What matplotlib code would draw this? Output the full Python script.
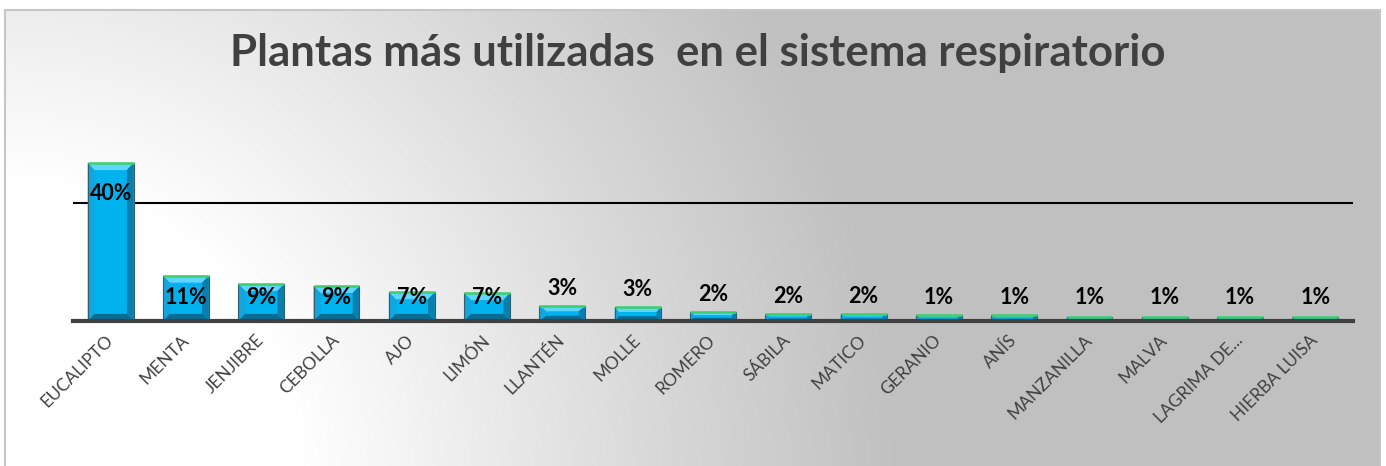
import matplotlib
matplotlib.use('Agg')
import matplotlib.pyplot as plt
import numpy as np
from matplotlib.patches import Polygon, Rectangle

# ---- data ----
categories = ['EUCALIPTO', 'MENTA', 'JENJIBRE', 'CEBOLLA', 'AJO', 'LIMÓN', 'LLANTÉN',
              'MOLLE', 'ROMERO', 'SÁBILA', 'MATICO', 'GERANIO', 'ANÍS', 'MANZANILLA',
              'MALVA', 'LAGRIMA DE...', 'HIERBA LUISA']
values = [40, 11.5, 9.4, 8.9, 7.3, 7.1, 3.8, 3.5, 2.3, 1.8, 1.8, 1.5, 1.5, 1.0, 1.0, 1.0, 1.0]
value_labels = ['40%', '11%', '9%', '9%', '7%', '7%', '3%', '3%', '2%', '2%', '2%',
                '1%', '1%', '1%', '1%', '1%', '1%']
title = 'Plantas más utilizadas  en el sistema respiratorio'

W, H, DPI = 1386, 466, 100
fig = plt.figure(figsize=(W / DPI, H / DPI), dpi=DPI)
fig.patch.set_facecolor('white')

# ---- background gradient panel ----
fx0, fx1, fy0, fy1 = 5, 1380, 10, 466  # pixel extents (top-origin)
bg = fig.add_axes([fx0 / W, 0, (fx1 - fx0) / W, 1 - fy0 / H], zorder=-5)
xs = np.arange(fx0, fx1)
ys = np.arange(fy0, fy1)
X, Y = np.meshgrid(xs, ys)
R = np.hypot(X - 0, (Y - 480) * 1.0)
t = np.interp(R, [0, 300, 450, 650, 900, 5000], [0, 0, 0.25, 0.6, 1.0, 1.0])
grey = (255 - t * (255 - 192)) / 255.0
img = np.dstack([grey, grey, grey])
bg.imshow(img, aspect='auto', interpolation='bilinear')
bg.set_axis_off()
fig.add_artist(Rectangle((fx0 / W, -0.01), (fx1 - fx0) / W, 1 - fy0 / H + 0.01,
                         transform=fig.transFigure, fill=False,
                         edgecolor='#c6c6c6', lw=1.5, zorder=-4))

# ---- main axes ----
ax_left, ax_right = 73 / W, 1353 / W
ax_bottom = 1 - 321 / H
ymax = 50
ax_top = 1 - (321 - ymax * 3.95) / H
ax = fig.add_axes([ax_left, ax_bottom, ax_right - ax_left, ax_top - ax_bottom])
ax.patch.set_alpha(0)
ax.set_xlim(-0.5, len(categories) - 0.5)
ax.set_ylim(0, ymax)

x = np.arange(len(categories))
bw = 0.61
bars = ax.bar(x, values, width=bw, color='#00b2ee', edgecolor='none', zorder=2)

# bevel facets
bx = 0.09
by_full = 1.8
for rect, v in zip(bars, values):
    x0 = rect.get_x()
    x1 = x0 + rect.get_width()
    h = rect.get_height()
    by = min(by_full, h * 0.35)
    bxx = bx if h > 2 * by_full else bx * 0.6
    facets = [
        ([(x0, h), (x1, h), (x1 - bxx, h - by), (x0 + bxx, h - by)], '#5fd6ff'),
        ([(x0, 0), (x0, h), (x0 + bxx, h - by), (x0 + bxx, by)], '#12a6dc'),
        ([(x1, 0), (x1, h), (x1 - bxx, h - by), (x1 - bxx, by)], '#0a7fae'),
        ([(x0, 0), (x1, 0), (x1 - bxx, by), (x0 + bxx, by)], '#086d94'),
    ]
    for pts, c in facets:
        ax.add_patch(Polygon(pts, closed=True, facecolor=c, edgecolor='none', zorder=3))
    ax.add_patch(Rectangle((x0, 0), x1 - x0, h, fill=False, edgecolor='#2f5f6f',
                           lw=0.8, zorder=4))
    ax.plot([x0, x1], [h, h], color='#3ccf6e', lw=1.8, zorder=5, solid_capstyle='butt')

# value labels
for xi, v, lab in zip(x, values, value_labels):
    if v >= 5:
        ly = max(v - 7.6, 6.0)
    else:
        ly = max(v + 4.5, 6.0)
    ax.text(xi, ly, lab, ha='center', va='center', fontsize=15.5, fontweight='bold',
            color='black', family='Lato', zorder=6)

# gridline at 30
ax.set_yticks([30])
ax.yaxis.grid(True, color='black', lw=1.5, zorder=1)
ax.tick_params(axis='y', length=0, labelleft=False)
ax.set_axisbelow(True)

for s in ['top', 'right', 'left']:
    ax.spines[s].set_visible(False)
ax.spines['bottom'].set_color('#404040')
ax.spines['bottom'].set_linewidth(3)
ax.spines['bottom'].set_zorder(7)

ax.set_xticks(x)
ax.set_xticklabels(categories, rotation=45, ha='right', va='center',
                   rotation_mode='anchor', fontsize=12.5, color='#404040', family='Lato')
ax.tick_params(axis='x', length=0, pad=12)
for lbl in ax.get_xticklabels():
    lbl.set_x(lbl.get_position()[0])

fig.text(0.5036, 1 - 53 / H, title, ha='center', va='center', fontsize=31.5,
         fontweight='bold', color='#404040', family='Lato')

fig.savefig('out.png', dpi=DPI)
